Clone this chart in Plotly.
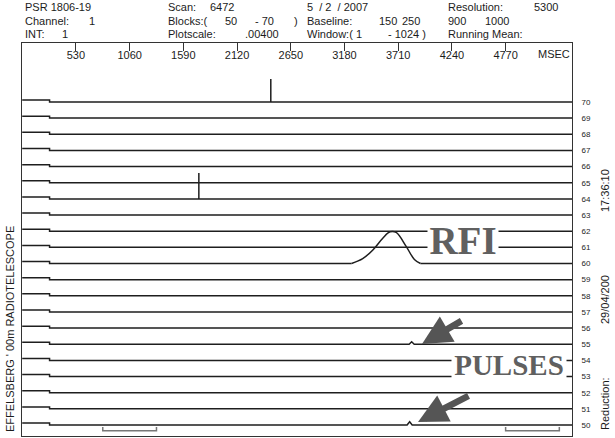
import plotly.graph_objects as go

# ---------------- observation header ----------------
source_name = "PSR 1806-19"
channel = "1"
integration = "1"
scan = "6472"
blocks = ("50", "- 70")
plotscale = ".00400"
obs_date = "5  / 2  / 2007"
baseline_bins = [(150, 250), (900, 1000)]
window_bins = (1, 1024)
resolution_ms = 5300
bin_ms = 5.3                  # milliseconds per phase bin

# ---------------- axis values ----------------
tick_ms = [530, 1060, 1590, 2120, 2650, 3180, 3710, 4240, 4770]
trace_ids = list(range(70, 49, -1))          # block numbers, top to bottom

# ---------------- trace features ----------------
step_ms = 270                 # end of the raised leading segment
step_height = 0.12

spike_trace = [70, 64]
spike_ms = [2453, 1743]
spike_height = [1.42, 1.6]

rfi_trace = 60
rfi_ms = [3250, 3360, 3460, 3560, 3630, 3690, 3790, 3870, 3930]
rfi_amp = [0.0, 0.3, 0.84, 1.58, 1.96, 1.92, 1.04, 0.25, 0.0]

pulse_trace = [55, 50]
pulse_ms = [3843, 3823]
pulse_height = [0.15, 0.2]

# ---------------- layout geometry (pixels) ----------------
W, H = 615, 438
L, R, T, B = 22, 43, 43, 2
PW, PH = W - L - R, H - T - B


def px(x):
    return (x - L) / PW


def py(y):
    return (H - B - y) / PH


LINE = "#1e1e1e"
TXT = "#1c1c1c"
FONT = "Liberation Sans, Arial, sans-serif"
SERIF = "Liberation Serif, Times New Roman, serif"

trace_start_ms = (window_bins[0] - 1) * bin_ms
trace_end_ms = window_bins[1] * bin_ms

fig = go.Figure()

for n in trace_ids:
    xs = [trace_start_ms, step_ms, step_ms]
    ys = [n + step_height, n + step_height, n]
    events = []
    for t, m, h in zip(spike_trace, spike_ms, spike_height):
        if t == n:
            events.append((m, [m, m, m], [n, n + h, n]))
    for t, m, h in zip(pulse_trace, pulse_ms, pulse_height):
        if t == n:
            events.append((m, [m - 25, m, m + 25], [n, n + h, n]))
    if n == rfi_trace:
        events.append((rfi_ms[0], [rfi_ms[0], None, rfi_ms[-1]], [n, None, n]))
    for _, ex, ey in sorted(events, key=lambda e: e[0]):
        xs += ex
        ys += ey
    xs.append(trace_end_ms)
    ys.append(n)
    fig.add_trace(go.Scatter(x=xs, y=ys, mode="lines",
                             line=dict(color=LINE, width=1.5),
                             hoverinfo="skip", showlegend=False))
    if n == rfi_trace:
        fig.add_trace(go.Scatter(x=rfi_ms, y=[n + a for a in rfi_amp],
                                 mode="lines",
                                 line=dict(color=LINE, width=1.5, shape="spline"),
                                 hoverinfo="skip", showlegend=False))

# baseline windows marked under the lowest trace
for b0, b1 in baseline_bins:
    x0, x1 = b0 * bin_ms, b1 * bin_ms
    fig.add_trace(go.Scatter(x=[x0, x0, x1, x1],
                             y=[49.87, 49.64, 49.64, 49.87],
                             mode="lines", line=dict(color="#777", width=1.5),
                             hoverinfo="skip", showlegend=False))

ann = []


def text(x, y, s, size=11, anchor="left", angle=0, color=TXT):
    ann.append(dict(x=px(x), y=py(y), xref="paper", yref="paper", text=s,
                    showarrow=False, xanchor=anchor, yanchor="middle",
                    textangle=angle, font=dict(family=FONT, size=size, color=color)))


# header block
text(23, 6.5, source_name)
text(23, 20.5, "Channel:")
text(87, 20.5, channel)
text(23, 34, "INT:")
text(60, 34, integration)
text(166, 6.5, "Scan:")
text(208, 6.5, scan)
text(166, 20.5, "Blocks:(")
text(223, 20.5, blocks[0])
text(253, 20.5, blocks[1])
text(292, 20.5, ")")
text(166, 34, "Plotscale:")
text(243, 34, plotscale)
text(305, 6.5, obs_date)
text(305, 20.5, "Baseline:")
text(377, 20.5, str(baseline_bins[0][0]))
text(400, 20.5, str(baseline_bins[0][1]))
text(446, 20.5, str(baseline_bins[1][0]))
text(483, 20.5, str(baseline_bins[1][1]))
text(305, 34, "Window:( " + str(window_bins[0]))
text(386, 34, "- " + str(window_bins[1]) + " )")
text(446, 6.5, "Resolution:")
text(532, 6.5, str(resolution_ms))
text(446, 34, "Running Mean:")
text(554, 54, "MSEC", anchor="center")

# side labels
text(10, 329, "EFFELSBERG ' 00m RADIOTELESCOPE", anchor="center", angle=-90)
text(605, 191, "17:36:10", anchor="center", angle=-90)
text(605, 300, "29/04/200", anchor="center", angle=-90)
text(605, 404, "Reduction:", anchor="center", angle=-90)

# highlighted features
ann.append(dict(x=px(463), y=py(240), xref="paper", yref="paper", text="<b>RFI</b>",
                showarrow=False, xanchor="center", yanchor="middle", bgcolor="white",
                height=34, width=70, borderpad=0, valign="middle",
                font=dict(family=SERIF, size=39, color="#606060")))
ann.append(dict(x=px(509), y=py(365), xref="paper", yref="paper", text="<b>PULSES</b>",
                showarrow=False, xanchor="center", yanchor="middle", bgcolor="white",
                height=28, width=114, borderpad=0, valign="middle",
                font=dict(family=SERIF, size=29, color="#606060")))

for tip_x, tip_y, ax, ay in [(422, 344, 41, -24), (418, 422, 52, -27)]:
    ann.append(dict(x=px(tip_x), y=py(tip_y), xref="paper", yref="paper", text="",
                    showarrow=True, ax=ax, ay=ay, arrowcolor="#555555",
                    arrowwidth=6.5, arrowhead=2, arrowsize=0.9, standoff=0))

fig.update_layout(
    width=W, height=H,
    margin=dict(l=L, r=R, t=T, b=B),
    paper_bgcolor="white", plot_bgcolor="white",
    font=dict(family=FONT, color=TXT),
    annotations=ann,
    xaxis=dict(range=[-2, 5425], side="top", tickvals=tick_ms,
               ticks="inside", ticklen=8, tickcolor="#333", tickwidth=1,
               ticklabelposition="inside", tickfont=dict(size=11, color=TXT),
               showgrid=False, zeroline=False, showline=True, mirror=True,
               linecolor="#333", linewidth=1),
    yaxis=dict(range=[49.32, 73.65], side="right", tickvals=trace_ids,
               ticktext=[str(n) for n in trace_ids], ticks="",
               ticklabelstandoff=7, tickfont=dict(size=8, color=TXT),
               showgrid=False, zeroline=False, showline=True, mirror=True,
               linecolor="#333", linewidth=1),
)

fig.write_html("out.html")
